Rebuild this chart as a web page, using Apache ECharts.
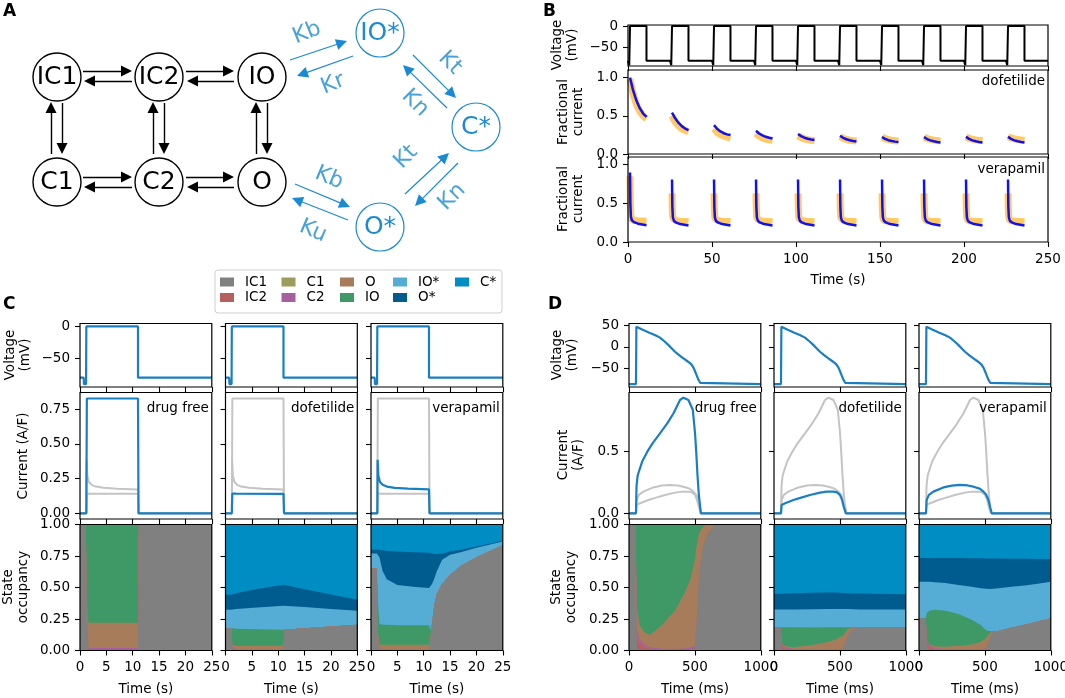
<!DOCTYPE html>
<html><head><meta charset="utf-8">
<script src="https://cdn.jsdelivr.net/npm/echarts@6/dist/echarts.min.js"></script>
<style>html,body{margin:0;padding:0;background:#fff}#c{width:1065px;height:698px}</style>
</head><body><div id="c"></div>
<script>
const FONT = 'DejaVu Sans';
const FS = 13.5;
const LINE_BLUE = '#1a7fc2';
const GREY = '#c4c4c4';
const DIAG_BLUE = '#1c8ad0';

// ---------------- States / legend ----------------
const stateNames = ['IC1','IC2','C1','C2','O','IO','IO*','O*','C*'];
const stateColors = ['#808080','#b5605f','#9c9c5c','#a85fa0','#a67c5b','#3f9966','#55acd4','#005b8f','#008dc4'];
const legendColumns = [['IC1','IC2'],['C1','C2'],['O','IO'],['IO*','O*'],['C*']];

// ---------------- Panel A diagram layout ----------------
const aNodeNames = ['IC1','IC2','IO','C1','C2','O','IO*','C*','O*'];
const aNodeX = [57,159,262,57,159,262,380,476,380];
const aNodeY = [77,77,77,182,182,182,33,127,227];
const aNodeDrug = [0,0,0,0,0,0,1,1,1];
const aArrowsBlack = [
  [83,71,132,71],[132,81,84,81],[186,71,234,71],[234,81,187,81],
  [83,177,132,177],[132,187,84,187],[186,177,234,177],[234,187,187,187],
  [51,154,51,102],[62,103,62,154],[153,154,153,102],[164,103,164,154],
  [256,154,256,102],[267,103,267,154]
];
const aArrowsBlue = [
  [290,60,347,41],[353,56,297,76],[413,55,456,98],[447,108,403,65],
  [458,163,415,206],[405,194,449,153],[295,184,350,207],[348,220,292,198]
];
const aRateText = ['Kb','Kr','Kt','Kn','Kt','Kn','Kb','Ku'];
const aRateX = [307,333,450,415,406,452,329,313];
const aRateY = [33,84,63,103,157,197,178,231];
const aRateRot = [22,22,-45,-45,45,45,-23,-23];

// ---------------- Panel B ----------------
const bSweepStarts = [0,25,50,75,100,125,150,175,200,225];
const bProtoT = [0,0.7,0.75,1.15,1.2,11,11,25];
const bProtoV = [-80,-80,-90,-90,0,0,-80,-80];
const bDofT = [1.2,3,5,7,9,11];
const bDofModel = [
  [1.000,0.835,0.700,0.600,0.530,0.487],
  [0.543,0.470,0.410,0.365,0.333,0.313],
  [0.378,0.330,0.295,0.272,0.257,0.248],
  [0.304,0.268,0.243,0.225,0.212,0.204],
  [0.261,0.234,0.213,0.199,0.190,0.183],
  [0.239,0.212,0.193,0.180,0.171,0.165],
  [0.222,0.198,0.181,0.170,0.162,0.157],
  [0.222,0.196,0.178,0.166,0.158,0.152],
  [0.226,0.198,0.179,0.166,0.158,0.152],
  [0.226,0.198,0.179,0.166,0.158,0.152]
];
const bDofData = [
  [0.980,0.790,0.650,0.560,0.500,0.460],
  [0.500,0.420,0.370,0.330,0.310,0.290],
  [0.330,0.285,0.255,0.235,0.220,0.210],
  [0.270,0.235,0.210,0.195,0.185,0.180],
  [0.240,0.215,0.198,0.187,0.180,0.175],
  [0.228,0.205,0.190,0.180,0.175,0.170],
  [0.222,0.202,0.188,0.180,0.174,0.170],
  [0.222,0.203,0.190,0.182,0.176,0.172],
  [0.224,0.206,0.193,0.185,0.180,0.176],
  [0.228,0.210,0.197,0.189,0.184,0.180]
];
const bVerT = [1.2,1.4,1.7,2.3,3.5,6,11];
const bVerModel = [
  [0.90,0.50,0.33,0.280,0.258,0.237,0.218],
  [0.81,0.46,0.32,0.275,0.253,0.232,0.213],
  [0.81,0.46,0.32,0.275,0.253,0.232,0.213],
  [0.81,0.46,0.32,0.275,0.253,0.232,0.213],
  [0.81,0.46,0.32,0.275,0.253,0.232,0.213],
  [0.81,0.46,0.32,0.275,0.253,0.232,0.213],
  [0.81,0.46,0.32,0.275,0.253,0.232,0.213],
  [0.81,0.46,0.32,0.275,0.253,0.232,0.213],
  [0.81,0.46,0.32,0.275,0.253,0.232,0.213],
  [0.81,0.46,0.32,0.275,0.253,0.232,0.213]
];
const bVerData = [
  [0.85,0.50,0.34,0.290,0.280,0.275,0.270],
  [0.63,0.42,0.31,0.285,0.275,0.270,0.265],
  [0.63,0.42,0.31,0.285,0.275,0.270,0.265],
  [0.63,0.42,0.31,0.285,0.275,0.270,0.262],
  [0.63,0.42,0.31,0.285,0.275,0.268,0.262],
  [0.63,0.42,0.31,0.285,0.273,0.268,0.262],
  [0.63,0.42,0.31,0.283,0.273,0.268,0.262],
  [0.63,0.42,0.31,0.283,0.273,0.268,0.262],
  [0.63,0.42,0.31,0.283,0.273,0.268,0.262],
  [0.63,0.42,0.31,0.283,0.273,0.268,0.262]
];

// ---------------- Panel C (Milnes step, seconds) ----------------
const cVoltT = [0,0.7,0.75,1.15,1.2,11.0,11.0,25];
const cVoltV = [-80,-80,-90,-90,0,0,-80,-80];
const cCurFreeT = [0,1.2,1.3,11.0,11.1,25];
const cCurFree  = [0,0,0.826,0.826,0,0];
const cCurDofT  = [0,1.2,1.3,2,11.0,11.1,25];
const cCurDof   = [0,0,0.142,0.141,0.140,0,0];
const cCurVerT  = [0,1.2,1.25,1.4,1.7,2.2,3,4.5,7,11.0,11.1,25];
const cCurVer   = [0,0,0.385,0.27,0.225,0.205,0.192,0.183,0.177,0.172,0,0];

// cumulative state-occupancy (rows: up to IC1, IC2, C1, C2, O, IO, IO*, O*, C*)
const cOccFreeT = [0,1.1,1.3,1.6,11.0,11.15,25];
const cOccFree = [
  [1,1,0.30,0,0,1,1],
  [1,1,0.32,0.012,0.012,1,1],
  [1,1,0.32,0.012,0.012,1,1],
  [1,1,0.33,0.02,0.02,1,1],
  [1,1,0.42,0.22,0.22,1,1],
  [1,1,1,1,1,1,1],
  [1,1,1,1,1,1,1],
  [1,1,1,1,1,1,1],
  [1,1,1,1,1,1,1]
];
const cOccDofT = [0,1.1,1.3,2,6,11.0,11.15,15,20,25];
const cOccDof = [
  [0.178,0.178,0.020,0.005,0.003,0.003,0.164,0.176,0.190,0.204],
  [0.178,0.178,0.030,0.008,0.005,0.005,0.164,0.176,0.190,0.204],
  [0.178,0.178,0.030,0.008,0.005,0.005,0.164,0.176,0.190,0.204],
  [0.178,0.178,0.032,0.010,0.007,0.007,0.164,0.176,0.190,0.204],
  [0.178,0.178,0.045,0.035,0.037,0.037,0.164,0.176,0.190,0.204],
  [0.178,0.178,0.175,0.172,0.168,0.164,0.164,0.176,0.190,0.204],
  [0.324,0.324,0.325,0.330,0.341,0.355,0.355,0.345,0.329,0.316],
  [0.443,0.443,0.445,0.455,0.488,0.522,0.521,0.486,0.444,0.403],
  [1,1,1,1,1,1,1,1,1,1]
];
const cOccVerT = [0,1.1,1.3,1.6,2.2,3,5,8,11.0,11.3,11.6,12.0,12.5,13.5,15,17,20,25];
const cOccVer = [
  [0.65,0.65,0.10,0,0,0,0,0,0,0.10,0.22,0.36,0.45,0.53,0.60,0.67,0.74,0.835],
  [0.65,0.65,0.13,0.010,0.005,0.003,0.002,0.002,0.002,0.102,0.22,0.36,0.45,0.53,0.60,0.67,0.74,0.835],
  [0.65,0.65,0.13,0.010,0.005,0.003,0.002,0.002,0.002,0.102,0.22,0.36,0.45,0.53,0.60,0.67,0.74,0.835],
  [0.65,0.65,0.14,0.015,0.010,0.007,0.006,0.006,0.006,0.104,0.22,0.36,0.45,0.53,0.60,0.67,0.74,0.835],
  [0.65,0.65,0.16,0.050,0.045,0.045,0.045,0.045,0.045,0.12,0.22,0.36,0.45,0.53,0.60,0.67,0.74,0.835],
  [0.65,0.65,0.40,0.210,0.205,0.205,0.200,0.200,0.200,0.16,0.22,0.36,0.45,0.53,0.60,0.67,0.74,0.835],
  [0.77,0.77,0.765,0.74,0.63,0.565,0.52,0.505,0.496,0.50,0.53,0.57,0.63,0.72,0.76,0.78,0.815,0.865],
  [0.80,0.80,0.80,0.80,0.795,0.79,0.785,0.78,0.775,0.772,0.77,0.765,0.765,0.77,0.785,0.80,0.825,0.872],
  [1,1,1,1,1,1,1,1,1,1,1,1,1,1,1,1,1,1]
];

// ---------------- Panel D (action potential, ms) ----------------
const dVoltT = [0,53,56,100,150,200,235,270,300,330,349,380,410,438,460,476,490,501,515,527,540,552,1000];
const dVoltV = [-87,-87,47,40.5,33.5,27,21.5,12.5,4,-5.5,-11.5,-19.5,-26.5,-32.5,-37.5,-42,-49,-57,-68,-77,-84,-87,-87];
const dCurFreeT = [0,53,57,65,71,100,139,180,235,290,337,387,413,451,484,501,510,519,530,545,1000];
const dCurFree  = [0,0,0.22,0.30,0.325,0.42,0.50,0.57,0.649,0.73,0.81,0.919,0.938,0.919,0.84,0.65,0.50,0.32,0.15,0,0];
const dCurDofT  = [0,53,58,80,147,200,273,350,400,450,478,500,516,530,545,1000];
const dCurDof   = [0,0,0.068,0.08,0.108,0.125,0.149,0.168,0.176,0.176,0.17,0.15,0.11,0.05,0,0];
const dCurVerT  = [0,53,58,75,109,185,250,311,370,413,460,489,510,527,540,552,1000];
const dCurVer   = [0,0,0.108,0.15,0.176,0.21,0.225,0.23,0.226,0.216,0.2,0.176,0.15,0.108,0.05,0,0];

const dOccFreeT = [0,50,55,60,80,120,160,250,350,420,470,500,515,530,545,565,590,620,660,1000];
const dOccFree = [
  [1,1,0.45,0.03,0,0,0,0,0,0,0,0.01,0.25,0.55,0.72,0.84,0.91,0.96,1,1],
  [1,1,0.55,0.13,0.06,0.03,0.015,0.005,0.003,0.003,0.005,0.015,0.253,0.55,0.72,0.84,0.91,0.96,1,1],
  [1,1,0.55,0.13,0.06,0.03,0.015,0.005,0.003,0.003,0.005,0.015,0.253,0.55,0.72,0.84,0.91,0.96,1,1],
  [1,1,0.58,0.17,0.09,0.045,0.025,0.013,0.011,0.015,0.025,0.035,0.263,0.555,0.72,0.84,0.91,0.96,1,1],
  [1,1,0.65,0.35,0.20,0.14,0.125,0.20,0.32,0.45,0.58,0.72,0.85,0.92,0.96,0.985,1,1,1,1],
  [1,1,1,1,1,1,1,1,1,1,1,1,1,1,1,1,1,1,1,1],
  [1,1,1,1,1,1,1,1,1,1,1,1,1,1,1,1,1,1,1,1],
  [1,1,1,1,1,1,1,1,1,1,1,1,1,1,1,1,1,1,1,1],
  [1,1,1,1,1,1,1,1,1,1,1,1,1,1,1,1,1,1,1,1]
];
const dOccDofT = [0,50,55,60,80,150,300,400,470,500,520,540,560,600,650,1000];
const dOccDof = [
  [0.185,0.185,0.09,0.01,0,0,0,0,0,0,0.01,0.06,0.12,0.17,0.183,0.185],
  [0.185,0.185,0.12,0.04,0.015,0.005,0.002,0.002,0.002,0.002,0.011,0.06,0.12,0.17,0.183,0.185],
  [0.185,0.185,0.12,0.04,0.015,0.005,0.002,0.002,0.002,0.002,0.011,0.06,0.12,0.17,0.183,0.185],
  [0.185,0.185,0.125,0.05,0.025,0.011,0.006,0.006,0.007,0.007,0.014,0.061,0.12,0.17,0.183,0.185],
  [0.185,0.185,0.13,0.058,0.035,0.026,0.046,0.066,0.087,0.107,0.114,0.141,0.17,0.182,0.185,0.185],
  [0.185,0.185,0.185,0.185,0.185,0.184,0.183,0.184,0.185,0.185,0.185,0.185,0.185,0.185,0.185,0.185],
  [0.325,0.325,0.325,0.325,0.325,0.326,0.328,0.33,0.33,0.33,0.33,0.33,0.33,0.328,0.326,0.325],
  [0.451,0.451,0.451,0.451,0.452,0.455,0.458,0.46,0.46,0.458,0.457,0.456,0.455,0.453,0.452,0.447],
  [1,1,1,1,1,1,1,1,1,1,1,1,1,1,1,1]
];
const dOccVerT = [0,50,55,60,80,120,200,300,400,470,510,540,560,600,700,800,900,1000];
const dOccVer = [
  [0.257,0.257,0.15,0.03,0.005,0,0,0,0,0,0.01,0.10,0.15,0.155,0.18,0.205,0.23,0.255],
  [0.257,0.257,0.18,0.06,0.025,0.01,0.005,0.003,0.002,0.002,0.012,0.10,0.15,0.155,0.18,0.205,0.23,0.255],
  [0.257,0.257,0.18,0.06,0.025,0.01,0.005,0.003,0.002,0.002,0.012,0.10,0.15,0.155,0.18,0.205,0.23,0.255],
  [0.257,0.257,0.19,0.075,0.037,0.018,0.01,0.007,0.007,0.01,0.02,0.103,0.15,0.155,0.18,0.205,0.23,0.255],
  [0.257,0.257,0.20,0.085,0.047,0.033,0.03,0.037,0.047,0.07,0.10,0.143,0.153,0.155,0.18,0.205,0.23,0.255],
  [0.257,0.257,0.28,0.30,0.315,0.324,0.315,0.29,0.245,0.20,0.16,0.152,0.153,0.155,0.18,0.205,0.23,0.255],
  [0.545,0.545,0.545,0.545,0.545,0.542,0.535,0.52,0.505,0.495,0.49,0.488,0.49,0.495,0.505,0.515,0.53,0.545],
  [0.735,0.735,0.735,0.735,0.735,0.735,0.735,0.734,0.733,0.732,0.731,0.73,0.73,0.73,0.729,0.728,0.727,0.726],
  [1,1,1,1,1,1,1,1,1,1,1,1,1,1,1,1,1,1]
];

const conditionLabels = ['drug free','dofetilide','verapamil'];

// ================= build option =================
const option = {
  animation: false, backgroundColor: '#fff',
  textStyle: { fontFamily: FONT },
  grid: [], xAxis: [], yAxis: [], series: [], legend: [], graphic: []
};
const G = option.graphic;
const lab = { fontFamily: FONT, fontSize: FS, color: '#000' };
const minus = v => String(v).replace('-', '\u2212');

function addPlot(rect, xc, yc) {
  const gi = option.grid.length;
  option.grid.push({ left: rect[0], top: rect[1], width: rect[2], height: rect[3], containLabel: false, outerBoundsMode: 'none' });
  const xa = {
    type: 'value', gridIndex: gi, min: xc.min, max: xc.max, interval: xc.interval,
    axisLine: { show: false, onZero: false }, splitLine: { show: false },
    axisTick: { show: xc.ticks !== false, length: 5, lineStyle: { color: '#000', width: 1.1 } },
    axisLabel: Object.assign({ show: !!xc.labels, margin: 10, formatter: xc.fmt || (v => minus(v)) }, lab)
  };
  const ya = {
    type: 'value', gridIndex: gi, min: yc.min, max: yc.max,
    axisLine: { show: false, onZero: false }, splitLine: { show: false },
    axisTick: { show: yc.ticks !== false, length: 5, lineStyle: { color: '#000', width: 1.1 } },
    axisLabel: Object.assign({ show: !!yc.labels, margin: 10, formatter: yc.fmt || (v => minus(v)) }, lab)
  };
  if (yc.values) { ya.axisTick.customValues = yc.values; ya.axisLabel.customValues = yc.values; }
  if (yc.show === false) ya.show = false;
  if (xc.show === false) xa.show = false;
  option.xAxis.push(xa);
  option.yAxis.push(ya);
  if (rect[4] !== false) {
    G.push({ type: 'rect', silent: true, z: 100, shape: { x: rect[0], y: rect[1], width: rect[2], height: rect[3] },
      style: { fill: 'none', stroke: '#000', lineWidth: 1.2 } });
  }
  return gi;
}
function lineSeries(gi, t, v, color, width, extra) {
  option.series.push(Object.assign({
    type: 'line', xAxisIndex: gi, yAxisIndex: gi, data: t.map((x, i) => [x, v[i]]),
    symbol: 'none', silent: true, lineStyle: { color, width }, itemStyle: { color }, z: 5
  }, extra || {}));
}
// cumulative occupancy: draw from the top state down, each filled to 0,
// so every state shows as the band between its own and the previous boundary
function occupancySeries(gi, t, tops) {
  for (let k = tops.length - 1; k >= 0; k--) {
    option.series.push({
      type: 'line', name: stateNames[k], xAxisIndex: gi, yAxisIndex: gi,
      data: t.map((x, i) => [x, tops[k][i]]),
      symbol: 'none', silent: true, lineStyle: { width: 0, color: stateColors[k] },
      areaStyle: { color: stateColors[k], opacity: 1, origin: 'start' }, itemStyle: { color: stateColors[k] }, z: 2
    });
  }
}
function txt(x, y, text, o) {
  G.push(Object.assign({ type: 'text', silent: true, z: 110, x, y,
    style: Object.assign({ text, fill: '#000', fontFamily: FONT, fontSize: FS, align: 'center', verticalAlign: 'middle', lineHeight: 15 }, (o && o.style) || {}) },
    o && o.rotation ? { rotation: o.rotation } : {}));
}

// ---------- Panel A ----------
const gA = addPlot([0, 0, 540, 262, false], { min: 0, max: 540, show: false }, { min: 0, max: 262, show: false });
option.yAxis[gA].inverse = true;
function arrowData(list) {
  return list.map(a => {
    const dx = a[2] - a[0], dy = a[3] - a[1], L = Math.hypot(dx, dy), s = 5.5 / L;
    return { coords: [[a[0], a[1]], [a[2] - dx * s, a[3] - dy * s]] };
  });
}
option.series.push({ type: 'lines', coordinateSystem: 'cartesian2d', xAxisIndex: gA, yAxisIndex: gA, silent: true,
  symbol: ['none', 'triangle'], symbolSize: 11, lineStyle: { color: '#000', width: 1.4, opacity: 1 }, z: 2,
  data: arrowData(aArrowsBlack) });
option.series.push({ type: 'lines', coordinateSystem: 'cartesian2d', xAxisIndex: gA, yAxisIndex: gA, silent: true,
  symbol: ['none', 'triangle'], symbolSize: 11, lineStyle: { color: DIAG_BLUE, width: 1.2, opacity: 1 }, z: 2,
  data: arrowData(aArrowsBlue) });
[0, 1].forEach(drug => {
  const col = drug ? DIAG_BLUE : '#000';
  option.series.push({ type: 'scatter', xAxisIndex: gA, yAxisIndex: gA, silent: true, z: 4,
    symbol: 'circle', symbolSize: 48,
    itemStyle: { color: '#fff', borderColor: col, borderWidth: drug ? 1.2 : 1.4, opacity: 1 },
    label: { show: true, position: 'inside', color: col, fontFamily: FONT, fontSize: 25, formatter: p => p.data.name },
    data: aNodeNames.map((n, i) => ({ name: n, value: [aNodeX[i], aNodeY[i]] })).filter((d, i) => aNodeDrug[i] === drug) });
});
option.series.push({ type: 'scatter', xAxisIndex: gA, yAxisIndex: gA, silent: true, z: 4, symbolSize: 1,
  itemStyle: { color: 'rgba(0,0,0,0)' },
  data: aRateText.map((t, i) => ({ value: [aRateX[i], aRateY[i]],
    label: { show: true, position: 'inside', rotate: aRateRot[i], formatter: t, color: DIAG_BLUE, fontFamily: FONT, fontSize: 22 } })) });

// ---------- Panel B ----------
const bLeft = 628, bW = 420;
const gBV = addPlot([bLeft, 25, bW, 41], { min: 0, max: 250, interval: 50 }, { min: -92, max: 2.3, values: [-50, 0], labels: true });
const gBD = addPlot([bLeft, 70, bW, 84], { min: 0, max: 250, interval: 50 }, { min: 0, max: 1.1, values: [0, 0.5, 1], labels: true, fmt: v => v.toFixed(1) });
const gBR = addPlot([bLeft, 157, bW, 85], { min: 0, max: 250, interval: 50, labels: true }, { min: 0, max: 1.1, values: [0, 0.5, 1], labels: true, fmt: v => v.toFixed(1) });
{
  const vt = [], vv = [];
  bSweepStarts.forEach(s => bProtoT.forEach((t, i) => { vt.push(s + t); vv.push(bProtoV[i]); }));
  lineSeries(gBV, vt, vv, '#000', 2);
}
bSweepStarts.forEach((s, k) => {
  lineSeries(gBD, bDofT.map(t => s + t), bDofData[k], '#ffa500', 7, { lineStyle: { color: '#ffa500', width: 7, opacity: 0.6 }, z: 3 });
  lineSeries(gBD, bDofT.map(t => s + t), bDofModel[k], '#1010f0', 2.5, { z: 6 });
  lineSeries(gBR, bVerT.map(t => s + t), bVerData[k], '#ffa500', 7, { lineStyle: { color: '#ffa500', width: 7, opacity: 0.6 }, z: 3 });
  lineSeries(gBR, bVerT.map(t => s + t), bVerModel[k], '#1010f0', 2.5, { z: 6 });
});
txt(1045, 81, 'dofetilide', { style: { align: 'right' } });
txt(1045, 169, 'verapamil', { style: { align: 'right' } });
txt(565, 45, 'Voltage\n(mV)', { rotation: Math.PI / 2 });
txt(571, 112, 'Fractional\ncurrent', { rotation: Math.PI / 2 });
txt(571, 199, 'Fractional\ncurrent', { rotation: Math.PI / 2 });
txt(838, 280, 'Time (s)');

// ---------- Panels C & D ----------
const colW = 131.8;
const rowTop = [323.5, 392.5, 524.5], rowH = [63.5, 126.5, 126];
const cLefts = [80, 225.5, 371], dLefts = [629, 774, 919];
const cCur = [[cCurFreeT, cCurFree], [cCurDofT, cCurDof], [cCurVerT, cCurVer]];
const dCur = [[dCurFreeT, dCurFree], [dCurDofT, dCurDof], [dCurVerT, dCurVer]];
const cOcc = [[cOccFreeT, cOccFree], [cOccDofT, cOccDof], [cOccVerT, cOccVer]];
const dOcc = [[dOccFreeT, dOccFree], [dOccDofT, dOccDof], [dOccVerT, dOccVer]];
const stateFmt = v => v.toFixed(2);

[0, 1, 2].forEach(j => {
  const first = j === 0;
  const xl = cLefts[j];
  const cx = { min: 0, max: 25, interval: 5 };
  const g1 = addPlot([xl, rowTop[0], colW, rowH[0]], cx, { min: -94.5, max: 4.5, values: [-50, 0], labels: first });
  const g2 = addPlot([xl, rowTop[1], colW, rowH[1]], cx, { min: -0.041, max: 0.869, values: [0, 0.25, 0.5, 0.75], labels: first, fmt: v => v.toFixed(2) });
  const g3 = addPlot([xl, rowTop[2], colW, rowH[2]], Object.assign({ labels: true }, cx), { min: 0, max: 1, values: [0, 0.25, 0.5, 0.75, 1], labels: first, fmt: stateFmt });
  lineSeries(g1, cVoltT, cVoltV, LINE_BLUE, 2.2);
  [0, 1, 2].filter(k => k !== j).forEach(k => lineSeries(g2, cCur[k][0], cCur[k][1], GREY, 2, { z: 4 }));
  lineSeries(g2, cCur[j][0], cCur[j][1], LINE_BLUE, 2.2, { z: 6 });
  occupancySeries(g3, cOcc[j][0], cOcc[j][1]);
  txt(xl + colW - 3, 408, conditionLabels[j], { style: { align: 'right' } });
  txt(xl + colW / 2, 689, 'Time (s)');

  const dl = dLefts[j];
  const dx = { min: 0, max: 1000, interval: 500 };
  const h1 = addPlot([dl, rowTop[0], colW, rowH[0]], dx, { min: -93.8, max: 54.5, values: [-50, 0, 50], labels: first });
  const h2 = addPlot([dl, rowTop[1], colW, rowH[1]], dx, { min: -0.046, max: 0.98, values: [0, 0.5], labels: first, fmt: v => v.toFixed(1) });
  const h3 = addPlot([dl, rowTop[2], colW, rowH[2]], Object.assign({ labels: true }, dx), { min: 0, max: 1, values: [0, 0.25, 0.5, 0.75, 1], labels: first, fmt: stateFmt });
  lineSeries(h1, dVoltT, dVoltV, LINE_BLUE, 2.2);
  [0, 1, 2].filter(k => k !== j).forEach(k => lineSeries(h2, dCur[k][0], dCur[k][1], GREY, 2, { z: 4 }));
  lineSeries(h2, dCur[j][0], dCur[j][1], LINE_BLUE, 2.2, { z: 6 });
  occupancySeries(h3, dOcc[j][0], dOcc[j][1]);
  txt(dl + colW - 4, 408, conditionLabels[j], { style: { align: 'right' } });
  txt(dl + colW / 2, 689, 'Time (ms)');
});
txt(18, 355, 'Voltage\n(mV)', { rotation: Math.PI / 2 });
txt(23, 456, 'Current (A/F)', { rotation: Math.PI / 2 });
txt(16, 587, 'State\noccupancy', { rotation: Math.PI / 2 });
txt(565, 355, 'Voltage\n(mV)', { rotation: Math.PI / 2 });
txt(571, 455, 'Current\n(A/F)', { rotation: Math.PI / 2 });
txt(564, 587, 'State\noccupancy', { rotation: Math.PI / 2 });

[['A', 3, 12], ['B', 543, 12], ['C', 3, 305], ['D', 548, 305]].forEach(l =>
  txt(l[1], l[2], l[0], { style: { align: 'left', fontWeight: 'bold', fontSize: 17 } }));

G.push({ type: 'rect', silent: true, z: 1, shape: { x: 215, y: 270, width: 287, height: 43, r: 3 },
  style: { fill: '#fff', stroke: '#cfcfcf', lineWidth: 1 } });
const legendX = [220, 281.5, 340, 393, 455];
legendColumns.forEach((names, c) => {
  option.legend.push({ orient: 'vertical', left: legendX[c], top: 275, padding: 0, itemGap: 1.5,
    itemWidth: 14, itemHeight: 9, icon: 'rect', selectedMode: false, data: names,
    textStyle: { fontFamily: FONT, fontSize: FS, color: '#000', padding: [0, 0, 0, 6] } });
});

const chart = echarts.init(document.getElementById('c'), null, { width: 1065, height: 698 });
chart.setOption(option);
</script></body></html>
